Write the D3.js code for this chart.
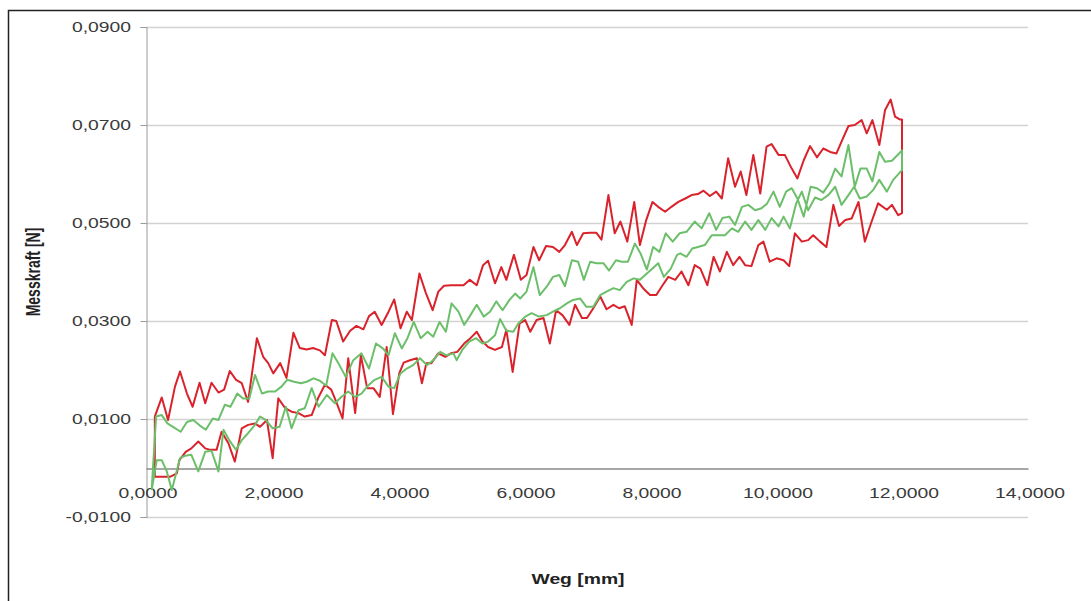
<!DOCTYPE html>
<html>
<head>
<meta charset="utf-8">
<script src="https://cdn.jsdelivr.net/npm/d3@7"></script>
<style>
  html, body { margin: 0; padding: 0; background: #fff; }
  svg { display: block; font-family: 'Liberation Sans', Arial, sans-serif; }
</style>
</head>
<body>
<div id="chart"></div>
<script>
// Weg [mm] / Messkraft [N] pairs
const redUp = [
  [0.14, 0.0105], [0.25, 0.0144], [0.35, 0.0098], [0.46, 0.0166], [0.54, 0.0197], [0.65, 0.0152], [0.74, 0.0125],
  [0.85, 0.0174], [0.94, 0.0132], [1.04, 0.0174], [1.15, 0.0154], [1.24, 0.0160], [1.33, 0.0198], [1.43, 0.0180],
  [1.52, 0.0173], [1.62, 0.0135], [1.76, 0.0265], [1.86, 0.0227], [1.94, 0.0214], [2.02, 0.0193], [2.13, 0.0214],
  [2.23, 0.0184], [2.34, 0.0276], [2.44, 0.0245], [2.55, 0.0242], [2.65, 0.0245], [2.76, 0.0240], [2.84, 0.0230],
  [2.95, 0.0302], [3.02, 0.0300], [3.13, 0.0258], [3.24, 0.0280], [3.34, 0.0290], [3.45, 0.0283], [3.54, 0.0310],
  [3.63, 0.0319], [3.74, 0.0292], [3.85, 0.0319], [3.94, 0.0344], [4.04, 0.0285], [4.14, 0.0319], [4.22, 0.0302],
  [4.34, 0.0397], [4.44, 0.0358], [4.55, 0.0322], [4.64, 0.0360], [4.73, 0.0372], [4.84, 0.0373], [4.94, 0.0373],
  [5.04, 0.0373], [5.14, 0.0384], [5.25, 0.0373], [5.35, 0.0414], [5.43, 0.0423], [5.54, 0.0377], [5.64, 0.0410],
  [5.72, 0.0384], [5.84, 0.0435], [5.95, 0.0384], [6.04, 0.0394], [6.15, 0.0451], [6.24, 0.0424], [6.35, 0.0453],
  [6.46, 0.0451], [6.56, 0.0441], [6.65, 0.0455], [6.76, 0.0482], [6.84, 0.0455], [6.94, 0.0479], [7.05, 0.0480],
  [7.15, 0.0480], [7.23, 0.0466], [7.34, 0.0557], [7.44, 0.0479], [7.53, 0.0503], [7.64, 0.0462], [7.75, 0.0543],
  [7.84, 0.0455], [7.94, 0.0506], [8.04, 0.0543], [8.13, 0.0533], [8.24, 0.0523], [8.34, 0.0533], [8.45, 0.0543],
  [8.56, 0.0550], [8.66, 0.0557], [8.76, 0.0559], [8.85, 0.0566], [8.95, 0.0555], [9.05, 0.0564], [9.14, 0.0550],
  [9.24, 0.0632], [9.35, 0.0574], [9.44, 0.0605], [9.53, 0.0557], [9.64, 0.0639], [9.75, 0.0560], [9.85, 0.0656],
  [9.93, 0.0661], [10.04, 0.0639], [10.14, 0.0639], [10.25, 0.0611], [10.34, 0.0591], [10.44, 0.0628], [10.54, 0.0657],
  [10.65, 0.0634], [10.75, 0.0652], [10.86, 0.0645], [10.96, 0.0642], [11.04, 0.0666], [11.15, 0.0698], [11.25, 0.0700],
  [11.36, 0.0710], [11.44, 0.0683], [11.53, 0.0710], [11.64, 0.0659], [11.73, 0.0730], [11.82, 0.0752], [11.89, 0.0717],
  [11.97, 0.0711], [12.0, 0.0711]
];
const redDown = [
  [12.0, 0.0520], [11.94, 0.0516], [11.84, 0.0537], [11.76, 0.0527], [11.62, 0.0540], [11.51, 0.0500], [11.41, 0.0462],
  [11.31, 0.0543], [11.20, 0.0509], [11.10, 0.0506], [11.00, 0.0494], [10.91, 0.0537], [10.80, 0.0451], [10.70, 0.0462],
  [10.59, 0.0475], [10.51, 0.0465], [10.41, 0.0462], [10.30, 0.0479], [10.21, 0.0412], [10.12, 0.0424], [10.01, 0.0428],
  [9.90, 0.0421], [9.80, 0.0462], [9.72, 0.0455], [9.61, 0.0412], [9.51, 0.0414], [9.42, 0.0431], [9.32, 0.0414],
  [9.22, 0.0441], [9.11, 0.0401], [9.01, 0.0431], [8.91, 0.0373], [8.80, 0.0407], [8.71, 0.0414], [8.61, 0.0373],
  [8.50, 0.0401], [8.40, 0.0384], [8.29, 0.0390], [8.20, 0.0373], [8.10, 0.0353], [8.00, 0.0353], [7.89, 0.0367],
  [7.79, 0.0384], [7.71, 0.0292], [7.60, 0.0330], [7.51, 0.0326], [7.42, 0.0333], [7.31, 0.0324], [7.21, 0.0350],
  [7.10, 0.0326], [7.00, 0.0306], [6.92, 0.0306], [6.81, 0.0333], [6.72, 0.0292], [6.61, 0.0312], [6.51, 0.0322],
  [6.41, 0.0254], [6.31, 0.0306], [6.20, 0.0302], [6.10, 0.0278], [6.02, 0.0302], [5.93, 0.0295], [5.82, 0.0196],
  [5.72, 0.0282], [5.65, 0.0247], [5.54, 0.0241], [5.43, 0.0247], [5.33, 0.0260], [5.25, 0.0278], [5.15, 0.0265],
  [5.05, 0.0254], [4.94, 0.0237], [4.84, 0.0234], [4.75, 0.0227], [4.64, 0.0234], [4.53, 0.0214], [4.45, 0.0214],
  [4.38, 0.0173], [4.30, 0.0224], [4.19, 0.0220], [4.09, 0.0215], [4.02, 0.0193], [3.92, 0.0110], [3.82, 0.0247],
  [3.71, 0.0145], [3.61, 0.0163], [3.51, 0.0163], [3.41, 0.0230], [3.32, 0.0112], [3.21, 0.0224], [3.12, 0.0101],
  [3.02, 0.0135], [2.94, 0.0160], [2.84, 0.0170], [2.74, 0.0145], [2.63, 0.0108], [2.52, 0.0105], [2.42, 0.0112],
  [2.31, 0.0115], [2.21, 0.0122], [2.10, 0.0142], [2.01, 0.0020], [1.92, 0.0098], [1.81, 0.0084], [1.73, 0.0091],
  [1.62, 0.0088], [1.52, 0.0081], [1.41, 0.0013], [1.31, 0.0050], [1.20, 0.0074], [1.12, 0.0037], [1.02, 0.0037],
  [0.94, 0.0040], [0.83, 0.0054], [0.72, 0.0040], [0.63, 0.0033], [0.53, 0.0016], [0.49, -0.0011], [0.38, -0.0018],
  [0.27, -0.0018], [0.14, -0.0018]
];
const greenUp = [
  [0.09, -0.0045], [0.16, 0.0105], [0.25, 0.0108], [0.34, 0.0091], [0.44, 0.0083], [0.55, 0.0074], [0.65, 0.0094],
  [0.75, 0.0098], [0.86, 0.0086], [0.95, 0.0078], [1.06, 0.0101], [1.15, 0.0098], [1.25, 0.0129], [1.34, 0.0125],
  [1.45, 0.0152], [1.54, 0.0142], [1.64, 0.0142], [1.73, 0.0190], [1.84, 0.0152], [1.94, 0.0156], [2.05, 0.0156],
  [2.15, 0.0166], [2.24, 0.0180], [2.35, 0.0176], [2.46, 0.0173], [2.55, 0.0176], [2.66, 0.0183], [2.76, 0.0178],
  [2.86, 0.0168], [2.96, 0.0234], [3.07, 0.0210], [3.17, 0.0186], [3.29, 0.0220], [3.42, 0.0234], [3.54, 0.0203],
  [3.65, 0.0254], [3.76, 0.0244], [3.85, 0.0230], [3.95, 0.0275], [4.06, 0.0244], [4.15, 0.0265], [4.25, 0.0298],
  [4.36, 0.0265], [4.47, 0.0278], [4.56, 0.0268], [4.66, 0.0298], [4.76, 0.0278], [4.85, 0.0336], [4.96, 0.0319],
  [5.05, 0.0292], [5.15, 0.0312], [5.25, 0.0333], [5.36, 0.0309], [5.46, 0.0319], [5.56, 0.0340], [5.66, 0.0322],
  [5.77, 0.0343], [5.86, 0.0356], [5.94, 0.0346], [6.04, 0.0360], [6.15, 0.0410], [6.25, 0.0353], [6.36, 0.0370],
  [6.46, 0.0390], [6.56, 0.0394], [6.65, 0.0371], [6.76, 0.0424], [6.86, 0.0421], [6.95, 0.0384], [7.05, 0.0421],
  [7.15, 0.0418], [7.26, 0.0418], [7.35, 0.0403], [7.46, 0.0424], [7.55, 0.0421], [7.65, 0.0421], [7.76, 0.0458],
  [7.85, 0.0438], [7.95, 0.0405], [8.05, 0.0451], [8.15, 0.0441], [8.25, 0.0479], [8.36, 0.0462], [8.47, 0.0479],
  [8.58, 0.0482], [8.71, 0.0503], [8.82, 0.0489], [8.94, 0.0520], [9.05, 0.0486], [9.15, 0.0510], [9.26, 0.0513],
  [9.35, 0.0496], [9.46, 0.0533], [9.56, 0.0537], [9.67, 0.0526], [9.77, 0.0530], [9.86, 0.0540], [9.96, 0.0564],
  [10.06, 0.0533], [10.16, 0.0564], [10.25, 0.0571], [10.34, 0.0550], [10.44, 0.0513], [10.55, 0.0574], [10.65, 0.0571],
  [10.75, 0.0562], [10.85, 0.0581], [10.94, 0.0611], [11.04, 0.0595], [11.15, 0.0659], [11.25, 0.0574], [11.34, 0.0611],
  [11.44, 0.0611], [11.53, 0.0585], [11.64, 0.0645], [11.73, 0.0625], [11.84, 0.0627], [12.0, 0.0648]
];
const greenDown = [
  [12.0, 0.0608], [11.86, 0.0588], [11.76, 0.0564], [11.64, 0.0588], [11.54, 0.0567], [11.44, 0.0554], [11.33, 0.0550],
  [11.24, 0.0574], [11.15, 0.0557], [11.04, 0.0537], [10.94, 0.0574], [10.83, 0.0557], [10.72, 0.0547], [10.62, 0.0552],
  [10.51, 0.0526], [10.41, 0.0564], [10.32, 0.0540], [10.22, 0.0489], [10.12, 0.0513], [10.04, 0.0493], [9.93, 0.0510],
  [9.83, 0.0486], [9.72, 0.0506], [9.61, 0.0486], [9.51, 0.0503], [9.40, 0.0482], [9.30, 0.0489], [9.19, 0.0475],
  [9.08, 0.0475], [8.98, 0.0475], [8.87, 0.0455], [8.76, 0.0451], [8.67, 0.0448], [8.58, 0.0431], [8.48, 0.0438],
  [8.43, 0.0435], [8.33, 0.0407], [8.22, 0.0390], [8.13, 0.0418], [8.04, 0.0407], [7.95, 0.0397], [7.84, 0.0384],
  [7.74, 0.0387], [7.63, 0.0380], [7.52, 0.0363], [7.42, 0.0367], [7.31, 0.0360], [7.21, 0.0353], [7.10, 0.0329],
  [6.99, 0.0329], [6.89, 0.0346], [6.78, 0.0343], [6.68, 0.0336], [6.57, 0.0326], [6.46, 0.0319], [6.36, 0.0312],
  [6.24, 0.0309], [6.12, 0.0316], [6.02, 0.0309], [5.91, 0.0295], [5.83, 0.0278], [5.72, 0.0280], [5.62, 0.0304],
  [5.54, 0.0271], [5.43, 0.0258], [5.34, 0.0254], [5.24, 0.0265], [5.13, 0.0258], [5.02, 0.0241], [4.93, 0.0220],
  [4.88, 0.0234], [4.77, 0.0230], [4.67, 0.0237], [4.56, 0.0220], [4.46, 0.0210], [4.35, 0.0224], [4.24, 0.0210],
  [4.14, 0.0203], [4.04, 0.0193], [3.94, 0.0163], [3.85, 0.0166], [3.74, 0.0186], [3.63, 0.0180], [3.53, 0.0169],
  [3.42, 0.0152], [3.32, 0.0145], [3.21, 0.0156], [3.10, 0.0145], [3.00, 0.0132], [2.87, 0.0149], [2.74, 0.0125],
  [2.63, 0.0163], [2.52, 0.0122], [2.42, 0.0118], [2.31, 0.0081], [2.22, 0.0125], [2.12, 0.0084], [2.01, 0.0081],
  [1.90, 0.0098], [1.81, 0.0105], [1.73, 0.0088], [1.62, 0.0071], [1.52, 0.0057], [1.43, 0.0037], [1.32, 0.0057],
  [1.23, 0.0078], [1.15, -0.0007], [1.04, 0.0035], [0.94, 0.0033], [0.83, -0.0007], [0.72, 0.0027], [0.62, 0.0025],
  [0.54, 0.0020], [0.41, -0.0045], [0.33, -0.0007], [0.25, 0.0016], [0.17, 0.0016], [0.09, -0.0045]
];
const xTicks = [0, 2, 4, 6, 8, 10, 12, 14];
const yTicks = [-0.01, 0.01, 0.03, 0.05, 0.07, 0.09];
const series = [
  { name: 'rot', up: redUp, down: redDown, color: '#d9222b' },
  { name: 'grün', up: greenUp, down: greenDown, color: '#6cbf6a' }
];

const width = 1091;
const height = 601;
const stretch = 1.38; // the picture is horizontally stretched, text included

const svg = d3.select('#chart').append('svg').attr('width', width).attr('height', height);

// frame
svg.append('rect')
  .attr('x', 8.5).attr('y', 10.5).attr('width', width).attr('height', height)
  .attr('fill', 'none').attr('stroke', '#222').attr('stroke-width', 1.5);

const x = d3.scaleLinear().domain([0, 14]).range([146, 1028]);
const y = d3.scaleLinear().domain([-0.01, 0.09]).range([517, 27]);

const de = d3.formatLocale({ decimal: ',', thousands: '.', grouping: [3], currency: ['', ' €'], minus: '-' });
const fmt = de.format('.4f');

// grid lines
svg.append('g').selectAll('line').data(yTicks).join('line')
  .attr('x1', x(0)).attr('x2', x(14))
  .attr('y1', (d) => Math.round(y(d)) + 0.5).attr('y2', (d) => Math.round(y(d)) + 0.5)
  .attr('stroke', '#d2d2d2').attr('stroke-width', 1.5);

// y axis
const yAxis = svg.append('g').attr('transform', `translate(${x(0) + 0.5},0)`)
  .call(d3.axisLeft(y).tickValues(yTicks).tickSize(6).tickFormat(() => ''));
yAxis.select('.domain').attr('stroke', '#9a9a9a');
yAxis.selectAll('.tick line').attr('stroke', '#9a9a9a');

svg.append('g').selectAll('text').data(yTicks).join('text')
  .attr('transform', (d) => `translate(131,${y(d) + 5}) scale(${stretch},1)`)
  .attr('text-anchor', 'end').attr('font-size', 14).attr('fill', '#3a3a3a')
  .text((d) => fmt(d));

// x axis at zero
const xAxis = svg.append('g').attr('transform', `translate(0,${Math.round(y(0)) + 0.5})`)
  .call(d3.axisBottom(x).tickValues(xTicks).tickSize(0).tickFormat(() => ''));
xAxis.select('.domain').attr('stroke', '#8a8a8a').attr('stroke-width', 1.5);

svg.append('g').selectAll('text').data(xTicks).join('text')
  .attr('transform', (d) => `translate(${x(d) + 2},${y(0) + 30}) scale(${stretch},1)`)
  .attr('text-anchor', 'middle').attr('font-size', 14).attr('fill', '#3a3a3a')
  .text((d) => fmt(d));

// loops
const line = d3.line().x((d) => x(d[0])).y((d) => y(d[1]));
svg.append('g').selectAll('path').data(series).join('path')
  .attr('d', (s) => line(s.up.concat(s.down, [s.up[0]])))
  .attr('fill', 'none')
  .attr('stroke', (s) => s.color)
  .attr('stroke-width', 2)
  .attr('stroke-linejoin', 'round');

// axis titles
svg.append('text')
  .attr('transform', `translate(${x(7) - 9},584) scale(${stretch},1)`)
  .attr('text-anchor', 'middle').attr('font-size', 14).attr('font-weight', 'bold').attr('fill', '#222')
  .text('Weg [mm]');
svg.append('text')
  .attr('transform', `translate(40,${y(0.04)}) scale(${stretch},1) rotate(-90)`)
  .attr('text-anchor', 'middle').attr('font-size', 14).attr('font-weight', 'bold').attr('fill', '#222')
  .text('Messkraft [N]');
</script>
</body>
</html>
